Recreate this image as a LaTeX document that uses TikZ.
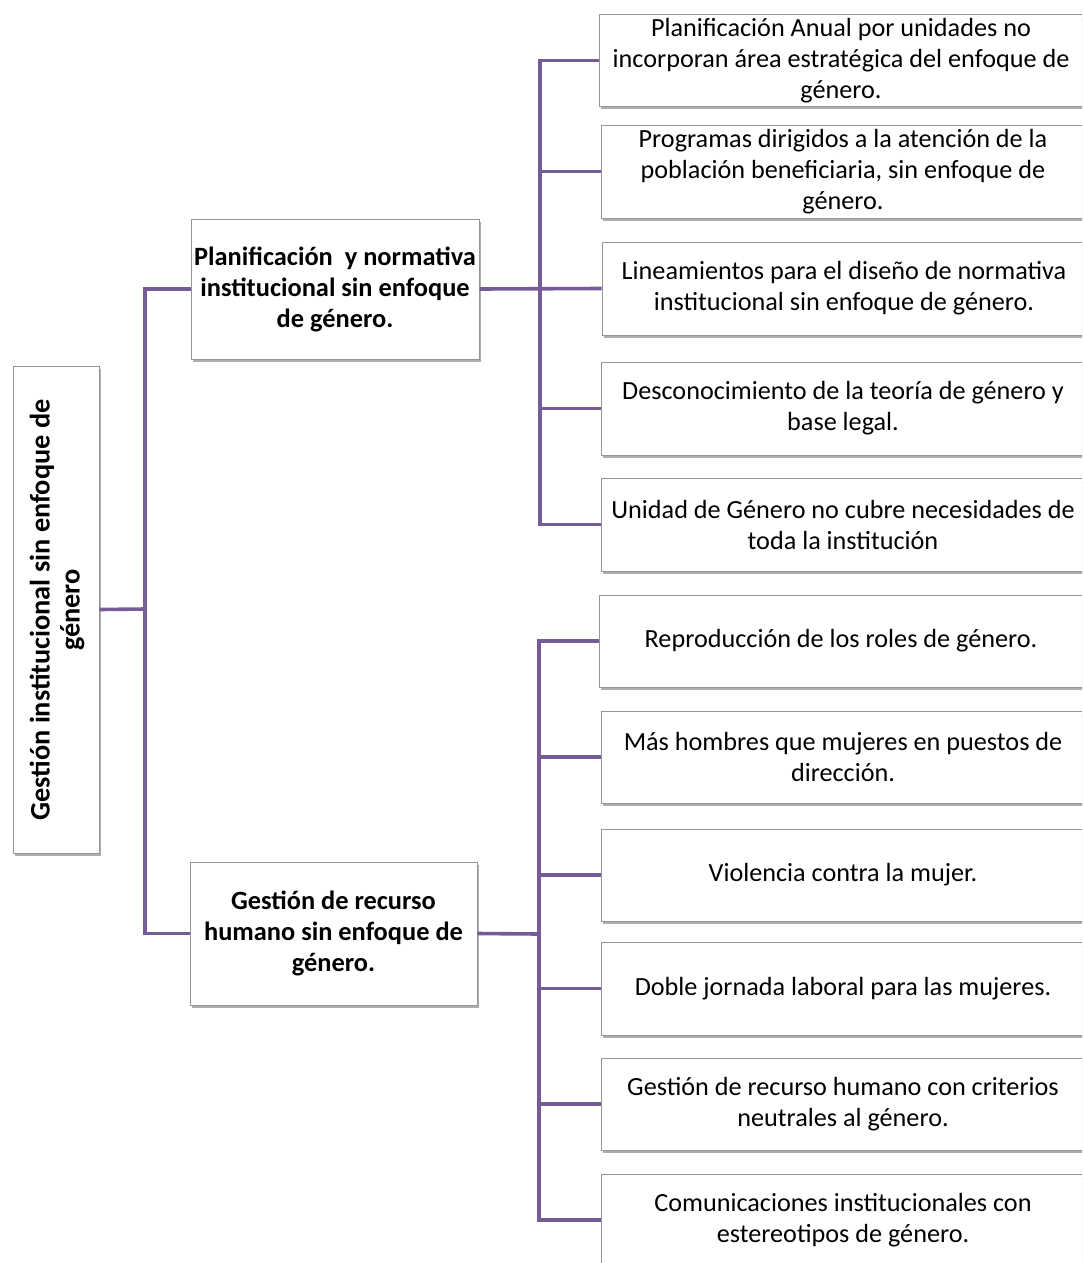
\documentclass[tikz,border=0pt]{standalone}
\usepackage{fontspec}
\setmainfont{Carlito}
\usetikzlibrary{shadows}
\definecolor{connpurple}{RGB}{118,92,150}
\definecolor{boxgray}{RGB}{150,150,150}
\begin{document}
\begin{tikzpicture}[x=1pt,y=-1pt,
  basebox/.style={draw=boxgray, line width=1pt, fill=white,
    drop shadow={shadow xshift=1.5pt, shadow yshift=-3pt, opacity=0.45, fill=black!70},
    inner sep=0pt, align=center},
  leaf/.style={basebox, minimum width=484pt,
    font=\fontsize{26.2}{31}\selectfont},
  mid/.style={basebox, font=\bfseries\fontsize{26.4}{31}\selectfont},
  conn/.style={draw=connpurple, line width=3.6pt},
]
\clip (0,0) rectangle (1082,1263);
\fill[white] (0,0) rectangle (1082,1263);

% root
\node[basebox, minimum width=86pt, minimum height=487pt] (root) at (56,609.5) {};
\node[rotate=90, align=center, font=\bfseries\fontsize{28.3}{30}\selectfont] (rootlabel) at (57,610)
  {Gestión institucional sin enfoque de\\género};

% middle
\node[mid, minimum width=288pt, minimum height=140pt] (m1) at (335,289)
  {Planificación\ \ y normativa\\institucional sin enfoque\\de género.};
\node[mid, minimum width=287pt, minimum height=143pt] (m2) at (333.5,933.5)
  {Gestión de recurso\\humano sin enfoque de\\género.};

% leaves group 1
\node[leaf, minimum height=91pt] (b1) at (841,60.5)
  {Planificación Anual por unidades no\\incorporan área estratégica del enfoque de\\género.};
\node[leaf, minimum height=93pt] (b2) at (843,171.5)
  {Programas dirigidos a la atención de la\\población beneficiaria, sin enfoque de\\género.};
\node[leaf, minimum height=93pt] (b3) at (844,288.5)
  {Lineamientos para el diseño de normativa\\institucional sin enfoque de género.};
\node[leaf, minimum height=93pt] (b4) at (843,408.5)
  {Desconocimiento de la teoría de género y\\base legal.};
\node[leaf, minimum height=93pt] (b5) at (843,524.5)
  {Unidad de Género no cubre necesidades de\\toda la institución};

% leaves group 2
\node[leaf, minimum height=92pt] (b6) at (841,641)
  {Reproducción de los roles de género.};
\node[leaf, minimum height=92pt] (b7) at (843,757)
  {Más hombres que mujeres en puestos de\\dirección.};
\node[leaf, minimum height=92pt] (b8) at (843,875)
  {Violencia contra la mujer.};
\node[leaf, minimum height=93pt] (b9) at (843,988.5)
  {Doble jornada laboral para las mujeres.};
\node[leaf, minimum height=92pt] (b10) at (843,1104)
  {Gestión de recurso humano con criterios\\neutrales al género.};
\node[leaf, minimum height=92pt] (b11) at (843,1220)
  {Comunicaciones institucionales con\\estereotipos de género.};

% trunk coordinates
\coordinate (t0) at (145,609);
\coordinate (t1) at (540,289);
\coordinate (t2) at (539,934);

% connectors
\draw[conn] (root.east) -- (t0);
\draw[conn] (m1.west) -| (t0) |- (m2.west);
\draw[conn] (m1.east) -- (b3.west);
\draw[conn] (b1.west) -| (t1) |- (b5.west);
\draw[conn] (b2.west) -- (b2.west -| t1);
\draw[conn] (b4.west) -- (b4.west -| t1);
\draw[conn] (m2.east) -- (t2);
\draw[conn] (b6.west) -| (t2) |- (b11.west);
\draw[conn] (b7.west) -- (b7.west -| t2);
\draw[conn] (b8.west) -- (b8.west -| t2);
\draw[conn] (b9.west) -- (b9.west -| t2);
\draw[conn] (b10.west) -- (b10.west -| t2);
\end{tikzpicture}
\end{document}
